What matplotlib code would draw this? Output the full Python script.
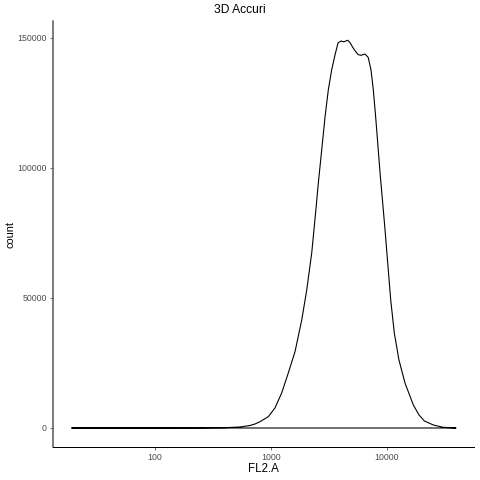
import matplotlib
matplotlib.use('Agg')
import matplotlib.pyplot as plt

plt.rcParams['font.family'] = ['Liberation Sans', 'DejaVu Sans']

# valores (FL2.A en log10)
log_fl2a = [1.284, 2.388, 2.603, 2.733, 2.819, 2.862, 2.905, 2.977, 3.034, 3.092, 3.149,
            3.207, 3.265, 3.308, 3.351, 3.385, 3.408, 3.437, 3.466, 3.494, 3.523, 3.552,
            3.578, 3.603, 3.629, 3.661, 3.681, 3.703, 3.724, 3.750, 3.776, 3.810, 3.838,
            3.862, 3.882, 3.902, 3.920, 3.940, 3.963, 3.983, 4.006, 4.032, 4.063, 4.103,
            4.155, 4.227, 4.276, 4.322, 4.400, 4.483, 4.595]
count = [0, 40, 115, 385, 960, 1540, 2420, 4350, 7690, 13460, 21150,
         29350, 41540, 53070, 67300, 83000, 94230, 106900, 119700, 130000, 137700, 143500,
         148100, 148800, 148500, 149100, 148200, 146500, 145100, 143600, 143300, 143800, 142500,
         137700, 130000, 119700, 109600, 98100, 86500, 76200, 63500, 49200, 36500, 26150,
         17300, 8850, 5000, 2700, 1150, 270, 0]
x_ticks = [100, 1000, 10000]
y_ticks = [0, 50000, 100000, 150000]

fl2a = [10 ** v for v in log_fl2a]

fig = plt.figure(figsize=(480 / 72, 480 / 72), dpi=72)
ax = fig.add_axes([53 / 480, 1 - 447 / 480, 421 / 480, 426 / 480])

# la curva va cerrada, como un geom_density
ax.plot(fl2a + [fl2a[0]], count + [count[0]], color='black', linewidth=1.1, solid_joinstyle='round')

ax.set_xscale('log')
ax.set_xlim(13.2, 56230)
ax.set_ylim(-7310, 156500)
ax.set_xticks(x_ticks)
ax.set_xticklabels([str(t) for t in x_ticks])
ax.set_yticks(y_ticks)
ax.set_yticklabels([str(t) for t in y_ticks])
ax.minorticks_off()

ax.spines['top'].set_visible(False)
ax.spines['right'].set_visible(False)
ax.spines['left'].set_linewidth(1.5)
ax.spines['left'].set_color('#555555')
ax.spines['bottom'].set_linewidth(1.0)
ax.tick_params(axis='both', labelsize=8.8, colors='#4d4d4d', length=3, width=0.8, pad=3)

ax.set_xlabel('FL2.A', fontsize=11.5, labelpad=1)
ax.set_ylabel('count', fontsize=11, labelpad=2)
ax.text(0.444, 1.0188, '3D Accuri', transform=ax.transAxes, ha='center', va='baseline', fontsize=12)

fig.savefig('out.png', dpi=72)
